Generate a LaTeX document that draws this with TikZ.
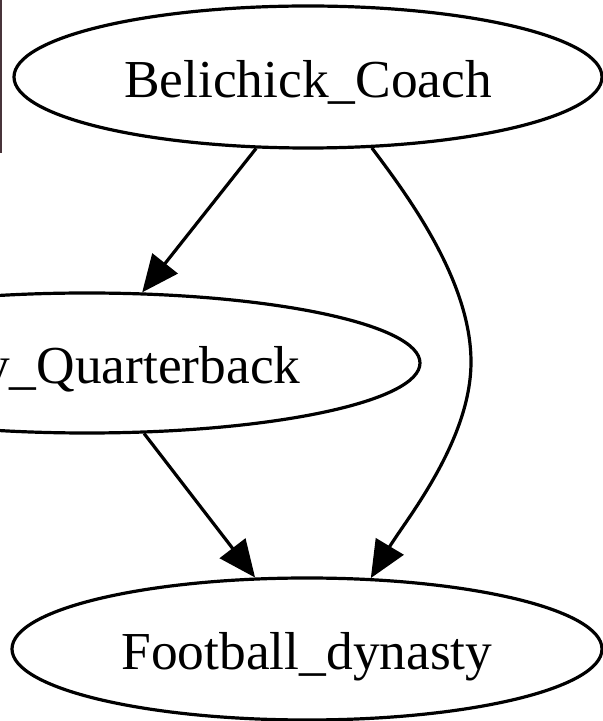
\documentclass[tikz,border=0pt]{standalone}
\usepackage{fontspec}
\setmainfont{Liberation Serif}
\usetikzlibrary{arrows.meta,shapes.geometric}

\tikzset{
  state/.style={ellipse, draw=black, line width=3.2pt, inner sep=0pt,
    text height=42pt, text depth=0pt,
    font=\fontsize{53.4}{60}\selectfont},
  link/.style={draw=black, line width=3.2pt,
    -{Triangle[length=37pt,width=32pt]}},
}

\begin{document}
\begin{tikzpicture}[x=1pt,y=1pt]
  \useasboundingbox (0,0) rectangle (603,721);
  \clip (0,0) rectangle (603,721);
  \fill[white] (0,0) rectangle (603,721);

  % edge of a neighbouring frame at the far left
  \draw[line width=1.6pt, draw={rgb,255:red,72;green,52;blue,58}] (0.8,721) -- (0.8,568);

  \node[state, minimum width=588pt, minimum height=142pt] (bc) at (308,644) {Belichick\_Coach};
  \node[state, minimum width=666pt, minimum height=140pt] (qb) at (87,358) {\hspace*{6pt}Brady\_Quarterback};
  \node[state, minimum width=590pt, minimum height=142pt] (fd) at (307,72) {Football\_dynasty};

  \draw[link] (bc.-126.5) -- (qb.52);
  \draw[link] (qb.-51.7) -- (fd.126.1);
  \draw[link] (bc.-48) .. controls (408,525) and (471,440) .. (471,359)
                       .. controls (471,280) and (405,200) .. (fd.48);
\end{tikzpicture}
\end{document}
